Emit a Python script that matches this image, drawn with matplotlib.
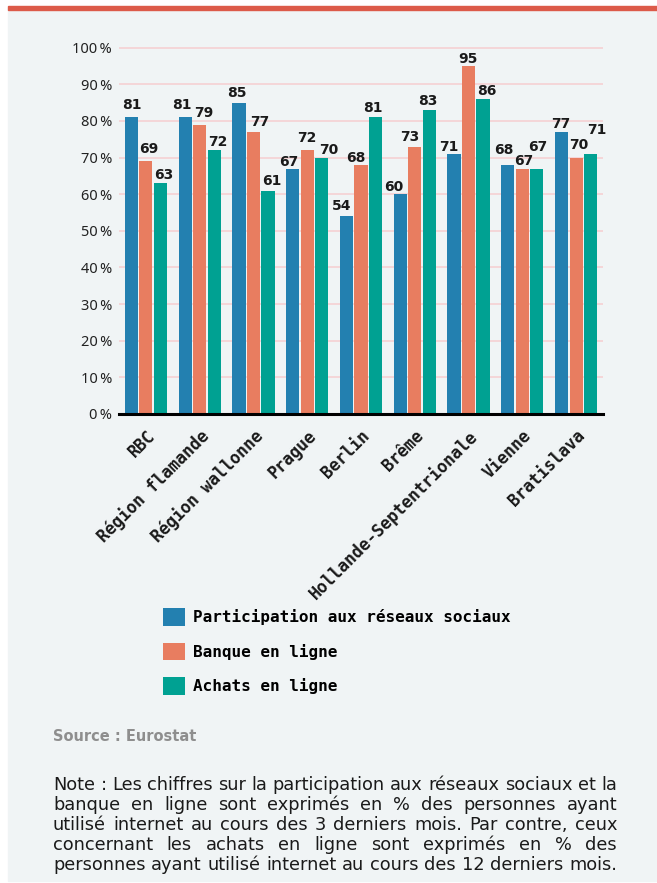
import matplotlib
matplotlib.use('Agg')
import matplotlib.pyplot as plt
from matplotlib.patches import Rectangle
import numpy as np

categories = ['RBC', 'Région flamande', 'Région wallonne', 'Prague', 'Berlin',
              'Brême', 'Hollande-Septentrionale', 'Vienne', 'Bratislava']
reseaux = [81, 81, 85, 67, 54, 60, 71, 68, 77]
banque = [69, 79, 77, 72, 68, 73, 95, 67, 70]
achats = [63, 72, 61, 70, 81, 83, 86, 67, 71]
series_names = ['Participation aux réseaux sociaux', 'Banque en ligne', 'Achats en ligne']
y_ticks = [0, 10, 20, 30, 40, 50, 60, 70, 80, 90, 100]
source = 'Source : Eurostat'
note_lines = [
    'Note : Les chiffres sur la participation aux réseaux sociaux et la',
    'banque en ligne sont exprimés en % des personnes ayant',
    'utilisé internet au cours des 3 derniers mois. Par contre, ceux',
    'concernant les achats en ligne sont exprimés en % des',
    'personnes ayant utilisé internet au cours des 12 derniers mois.',
]

colors = ['#2380b0', '#e87d60', '#00a192']

# nudges of the value labels (pixels): sideways, and baseline gap above the bar
label_dx = [[0.5, -3.5, -2, -4, -4.5, -6.5, -5.5, -4.5, -0.5],
            [2.5, 4.5, 6.5, -0.5, -5.5, -5.5, -1, 1.5, 2.5],
            [3.5, 3.5, 3.5, 7.5, -3, -1.5, 4, 1, 6]]
label_gap = [[8.5, 8.5, 6, 3, 6, 3.5, 3, 11, 4],
             [8, 8, 5.5, 8, 3, 6, 3, 4, 9],
             [4, 4, 6, 4, 5, 5, 4, 18, 20]]

W, H = 657, 883
fig = plt.figure(figsize=(W / 100, H / 100), dpi=100)
fig.patch.set_facecolor('white')
fig.add_artist(Rectangle((8 / W, 2 / H), 1 - 8 / W, (881 - 2 - 6) / H,
                         transform=fig.transFigure, color='#f0f4f5', zorder=-10))
fig.add_artist(Rectangle((8 / W, 1 - 10 / H), 1 - 8 / W, 4 / H,
                         transform=fig.transFigure, color='#dc5a49', zorder=-9))

ymax = 101
px_per_unit = (414 - 47.7) / 100
ax = fig.add_axes([119 / W, 1 - 414 / H, (603 - 119) / W, ymax * px_per_unit / H])
ax.set_facecolor('none')

x = np.arange(len(categories))
stride = 0.27
width = 0.245
all_series = [reseaux, banque, achats]
handles = []
for k, vals in enumerate(all_series):
    b = ax.bar(x + (k - 1) * stride, vals, width, color=colors[k],
               label=series_names[k], zorder=3)
    handles.append(b)
    for i, v in enumerate(vals):
        ax.annotate(str(v), (x[i] + (k - 1) * stride, v),
                    xytext=(label_dx[k][i] * 0.72, label_gap[k][i] * 0.72),
                    textcoords='offset points', ha='center', va='baseline',
                    fontsize=10, fontweight='bold', family='DejaVu Sans',
                    color='#1a1a1a', annotation_clip=False, zorder=4)

ax.set_xlim(-0.5, len(categories) - 0.5)
ax.set_ylim(0, ymax)
ax.set_yticks(y_ticks)
ax.set_yticklabels([f'{t}\u2009%' for t in y_ticks], family='Noto Sans',
                   fontsize=10.5, color='#222222')
ax.set_xticks(x)
ax.set_xticklabels(categories, rotation=45, ha='right', va='top',
                   rotation_mode='anchor', family='DejaVu Sans Mono',
                   fontweight='bold', fontsize=12, color='#1a1a1a')
ax.tick_params(axis='both', length=0)
ax.tick_params(axis='y', pad=5)
ax.tick_params(axis='x', pad=9)
ax.grid(axis='y', color='#f5d3d5', lw=1.3)
ax.set_axisbelow(True)
for s in ['left', 'right', 'top']:
    ax.spines[s].set_visible(False)
ax.spines['bottom'].set_color('black')
ax.spines['bottom'].set_linewidth(2.2)
ax.spines['bottom'].set_zorder(5)

fig.legend(handles, series_names, loc='upper left',
           bbox_to_anchor=(163 / W, 1 - 608 / H), bbox_transform=fig.transFigure,
           frameon=False, prop={'family': 'DejaVu Sans Mono', 'weight': 'bold', 'size': 11.5},
           handlelength=1.375, handleheight=1.31, handletextpad=0.5,
           labelspacing=1.07, borderpad=0, borderaxespad=0)

fig.text(53 / W, 1 - 741 / H, source, va='baseline', ha='left', color='#8e8e8e',
         fontweight='bold', fontsize=10.5, family='DejaVu Sans')

# justified note, font sized so that the first line fills the width naturally
renderer = fig.canvas.get_renderer()
left, right = 53, 617
probe = fig.text(0, 0, note_lines[0], fontsize=10, family='DejaVu Sans')
note_size = 10 * (right - left) / probe.get_window_extent(renderer).width
probe.remove()
baselines = [790.5, 810.5, 830.5, 850.5, 870.5]
for line, yb in zip(note_lines, baselines):
    words = line.split(' ')
    texts = [fig.text(0, 1 - yb / H, w, va='baseline', ha='left', fontsize=note_size,
                      family='DejaVu Sans', color='#1a1a1a') for w in words]
    widths = [t.get_window_extent(renderer).width for t in texts]
    gap = (right - left - sum(widths)) / (len(words) - 1)
    pos = left
    for t, wd in zip(texts, widths):
        t.set_x(pos / W)
        pos += wd + gap

fig.savefig('out.png', dpi=100)
